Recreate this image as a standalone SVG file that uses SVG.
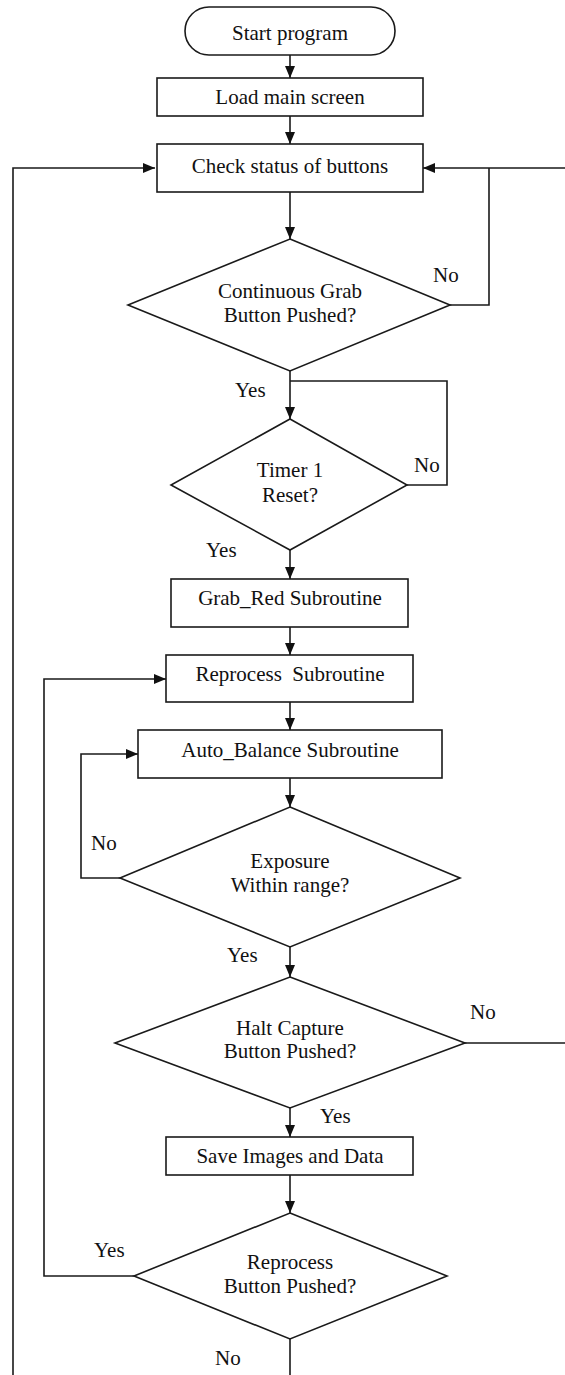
<svg xmlns="http://www.w3.org/2000/svg" width="565" height="1375" viewBox="0 0 565 1375">
<style>
.s{fill:#fff;stroke:#1a1a1a;stroke-width:1.6}
.c{fill:none;stroke:#1a1a1a;stroke-width:1.6}
text{font-family:"Liberation Serif","Times New Roman",serif;font-size:21px;fill:#111;white-space:pre}
.m{text-anchor:middle}
</style>
<defs>
<marker id="a" viewBox="0 0 12 10" markerWidth="12" markerHeight="10" refX="12" refY="5" orient="auto" markerUnits="userSpaceOnUse">
<path d="M0,0L12,5L0,10z" fill="#111"/>
</marker>
</defs>
<rect width="565" height="1375" fill="#fff"/>
<g id="connectors">
<path class="c" d="M290,55V78" marker-end="url(#a)"/>
<path class="c" d="M290,116V144" marker-end="url(#a)"/>
<path class="c" d="M290,192V239" marker-end="url(#a)"/>
<path class="c" d="M450,305H489V168"/>
<path class="c" d="M465,1043H570V168H423" marker-end="url(#a)"/>
<path class="c" d="M290,371V419" marker-end="url(#a)"/>
<path class="c" d="M407,485H447V381H290"/>
<path class="c" d="M290,550V579" marker-end="url(#a)"/>
<path class="c" d="M290,627V655" marker-end="url(#a)"/>
<path class="c" d="M290,702V730" marker-end="url(#a)"/>
<path class="c" d="M290,778V807" marker-end="url(#a)"/>
<path class="c" d="M120,878H81V754H138" marker-end="url(#a)"/>
<path class="c" d="M290,947V977" marker-end="url(#a)"/>
<path class="c" d="M290,1108V1137" marker-end="url(#a)"/>
<path class="c" d="M290,1175V1213" marker-end="url(#a)"/>
<path class="c" d="M134,1276H44V679H166" marker-end="url(#a)"/>
<path class="c" d="M290,1339V1390H13V168H155" marker-end="url(#a)"/>
<text x="433" y="282">No</text>
<text x="235" y="397">Yes</text>
<text x="414" y="472">No</text>
<text x="206" y="557">Yes</text>
<text x="91" y="850">No</text>
<text x="227" y="962">Yes</text>
<text x="470" y="1019">No</text>
<text x="320" y="1123">Yes</text>
<text x="94" y="1257">Yes</text>
<text x="215" y="1365">No</text>
</g>
<g id="start"><rect class="s" x="185" y="7" width="210" height="48" rx="24"/><text class="m" x="290" y="40">Start program</text></g>
<g id="load"><rect class="s" x="157" y="78" width="266" height="38"/><text class="m" x="290" y="104">Load main screen</text></g>
<g id="check"><rect class="s" x="157" y="144" width="266" height="48"/><text class="m" x="290" y="173">Check status of buttons</text></g>
<g id="grabBtn"><polygon class="s" points="290,239 450,305 290,371 128,305"/><text class="m" x="290" y="298">Continuous Grab</text><text class="m" x="290" y="322">Button Pushed?</text></g>
<g id="timer"><polygon class="s" points="290,419 407,485 290,550 171,485"/><text class="m" x="290" y="477">Timer 1</text><text class="m" x="290" y="502">Reset?</text></g>
<g id="grabRed"><rect class="s" x="171" y="579" width="237" height="48"/><text class="m" x="290" y="605">Grab_Red Subroutine</text></g>
<g id="reprocess"><rect class="s" x="166" y="655" width="247" height="47"/><text class="m" x="290" y="681">Reprocess  Subroutine</text></g>
<g id="autoBalance"><rect class="s" x="138" y="730" width="304" height="48"/><text class="m" x="290" y="757">Auto_Balance Subroutine</text></g>
<g id="exposure"><polygon class="s" points="290,807 460,878 290,947 120,878"/><text class="m" x="290" y="868">Exposure</text><text class="m" x="290" y="892">Within range?</text></g>
<g id="halt"><polygon class="s" points="290,977 465,1043 290,1108 115,1043"/><text class="m" x="290" y="1035">Halt Capture</text><text class="m" x="290" y="1058">Button Pushed?</text></g>
<g id="save"><rect class="s" x="166" y="1137" width="247" height="38"/><text class="m" x="290" y="1163">Save Images and Data</text></g>
<g id="reprocessBtn"><polygon class="s" points="290,1213 447,1276 290,1339 134,1276"/><text class="m" x="290" y="1269">Reprocess</text><text class="m" x="290" y="1293">Button Pushed?</text></g>
</svg>
